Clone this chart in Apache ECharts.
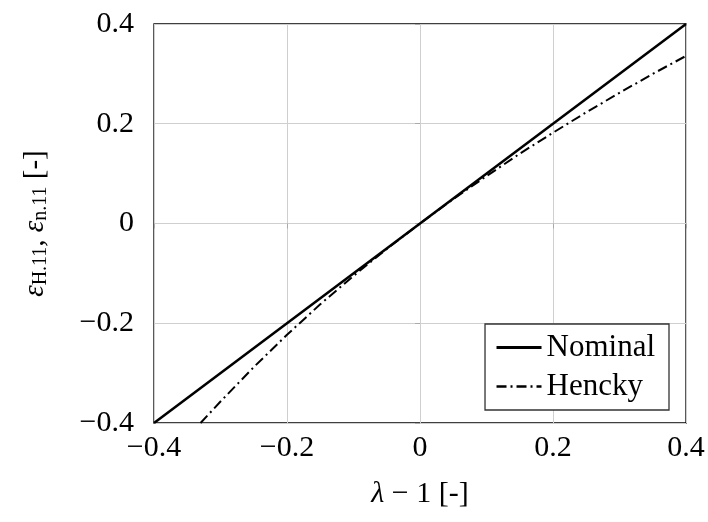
<!DOCTYPE html>
<html>
<head>
    <meta charset="utf-8">
    <style>
        html, body { margin: 0; padding: 0; background: #fff; }
        #chart { width: 708px; height: 522px; }
    </style>
</head>
<body>
    <div id="chart"></div>
    <script src="https://cdn.jsdelivr.net/npm/echarts@6/dist/echarts.min.js"></script>
    <script>
        // values
        var nominalX = [-0.4, 0.4];
        var nominalY = [-0.4, 0.4];
        var henckyX = [-0.33, -0.3, -0.25, -0.2, -0.15, -0.1, -0.05, 0, 0.05, 0.1, 0.15, 0.2, 0.25, 0.3, 0.35, 0.4];
        var henckyY = [-0.40, -0.357, -0.288, -0.223, -0.162, -0.105, -0.051, 0, 0.049, 0.095, 0.140, 0.182, 0.223, 0.262, 0.300, 0.336];

        var font = '"Liberation Serif", "DejaVu Serif", serif';

        function pairs(xs, ys) {
            return xs.map(function (x, i) { return [x, ys[i]]; });
        }
        function fmt(v) {
            var s = String(Math.round(v * 10) / 10);
            return s.replace('-', '\u2212');
        }

        var chart = echarts.init(document.getElementById('chart'));
        var axisCommon = {
            type: 'value',
            min: -0.4,
            max: 0.4,
            interval: 0.2,
            axisLine: { show: false },
            axisTick: { show: true, length: 5, inside: false, lineStyle: { color: '#aaa', width: 1 } },
            splitLine: { show: true, lineStyle: { color: '#cfcfcf', width: 1 } },
            axisLabel: { color: '#000', fontFamily: font, fontSize: 30, formatter: fmt }
        };

        var option = {
            animation: false,
            grid: {
                left: 154, right: 22, top: 24, bottom: 99,
                show: true, borderColor: '#000', borderWidth: 1.3, backgroundColor: 'transparent'
            },
            xAxis: Object.assign({}, axisCommon, {
                name: '{i|\u03bb}{m| \u2212 1 [-]}',
                nameLocation: 'middle',
                nameGap: 56,
                nameTextStyle: {
                    color: '#000', fontFamily: font, fontSize: 30,
                    rich: {
                        m: { fontFamily: font, fontSize: 30, color: '#000' },
                        i: { fontFamily: font, fontSize: 30, color: '#000', fontStyle: 'italic' }
                    }
                },
                axisLabel: Object.assign({}, axisCommon.axisLabel, { margin: 10 })
            }),
            yAxis: Object.assign({}, axisCommon, {
                name: '{i|\u03b5}{s|H.11}{m|, }{i|\u03b5}{s|n.11}{m| [-]}',
                nameLocation: 'middle',
                nameGap: 103,
                nameRotate: 90,
                nameTextStyle: {
                    color: '#000', fontFamily: font, fontSize: 29,
                    rich: {
                        m: { fontFamily: font, fontSize: 29, color: '#000' },
                        i: { fontFamily: font, fontSize: 29, color: '#000', fontStyle: 'italic' },
                        s: { fontFamily: font, fontSize: 20, color: '#000', padding: [12, 0, 0, 0] }
                    }
                },
                axisLabel: Object.assign({}, axisCommon.axisLabel, { margin: 20 })
            }),
            legend: {
                right: 39,
                bottom: 112,
                orient: 'vertical',
                backgroundColor: '#fff',
                borderColor: '#333',
                borderWidth: 1.3,
                borderRadius: 0,
                padding: [8, 14, 8, 10],
                itemGap: 8,
                itemWidth: 45,
                itemHeight: 14,
                itemStyle: { opacity: 0 },
                textStyle: { color: '#000', fontFamily: font, fontSize: 31 },
                data: [
                    { name: 'Nominal', lineStyle: { width: 3 } },
                    { name: 'Hencky', lineStyle: { width: 2.6 } }
                ]
            },
            series: [
                {
                    name: 'Nominal',
                    type: 'line',
                    data: pairs(nominalX, nominalY),
                    symbol: 'none',
                    lineStyle: { color: '#000', width: 2.6 },
                    itemStyle: { color: '#000' }
                },
                {
                    name: 'Hencky',
                    type: 'line',
                    data: pairs(henckyX, henckyY),
                    symbol: 'none',
                    lineStyle: { color: '#000', width: 2, type: [10, 4, 2, 4] },
                    itemStyle: { color: '#000' }
                }
            ]
        };
        chart.setOption(option);
    </script>
</body>
</html>
